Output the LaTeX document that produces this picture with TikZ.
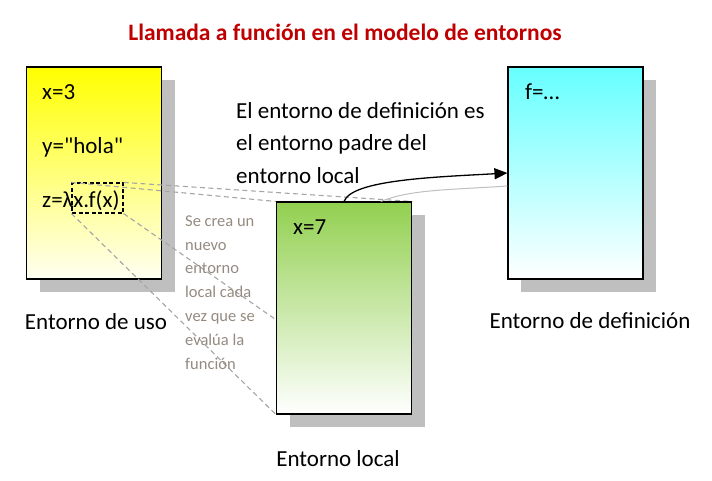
\documentclass[tikz,border=0pt]{standalone}
\usepackage{fontspec}
\setmainfont{Carlito}
\newfontfamily\plainfont{Carlito}[Mapping={}]
\usetikzlibrary{positioning,shadows,arrows.meta,calc}
\pgfdeclarelayer{back}
\pgfdeclarelayer{lines}
\pgfsetlayers{back,lines,main}
\definecolor{titlered}{RGB}{192,0,0}
\definecolor{notegray}{RGB}{148,138,128}
\definecolor{shadowgray}{RGB}{191,191,191}
\definecolor{guidegray}{RGB}{165,165,165}
\definecolor{usoyellow}{RGB}{255,255,0}
\definecolor{localgreen}{RGB}{146,208,80}
\definecolor{defcyan}{RGB}{102,255,255}
\tikzset{
    envbox/.style={draw=black, line width=1.1pt, minimum width=135pt, minimum height=212pt,
        drop shadow={shadow xshift=13pt, shadow yshift=-13pt, opacity=1, fill=shadowgray}},
    txt/.style={font=\fontsize{23}{32.5}\selectfont, inner sep=0pt, anchor=base west},
    guide/.style={guidegray, line width=1.1pt, dash pattern=on 5pt off 3.5pt},
}

\begin{document}
\begin{tikzpicture}[x=1pt,y=-1pt]
    \useasboundingbox (0,0) rectangle (712,480);
    \node[txt, anchor=base, font=\bfseries\fontsize{23.5}{28}\selectfont, text=titlered] (title) at (345,40) {Llamada a función en el modelo de entornos};

    % entorno de uso
    \begin{pgfonlayer}{back}
        \node[envbox, top color=usoyellow, bottom color=white!95!usoyellow] (uso) at (94,173) {};
        \node[txt] (vx) at (42,99) {x=3};
        \node[txt] (vy) at (42,153) {\plainfont y="hola"};
        \node[txt] (vz) at (42,207) {z=λx.f(x)};
        \node[draw, line width=1.1pt, dash pattern=on 4pt off 2.5pt, minimum width=51pt, minimum height=30pt, inner sep=0pt] (lam) at (97.5,198) {};
    \end{pgfonlayer}

    % entorno local y entorno de definicion
    \node[envbox, top color=localgreen, bottom color=white] (local) at (344,308) {};
    \node[txt] (vx7) at (293,234) {x=7};
    \node[envbox, top color=defcyan, bottom color=white] (def) at (575.5,173) {};
    \node[txt] (vf) at (525,99) {f=…};

    \begin{pgfonlayer}{lines}
        \foreach \c in {north west,north east,south west,south east}{
            \draw[guide] (lam.\c) -- (local.\c);
        }
    \end{pgfonlayer}

    \coordinate (gstart) at ($(local.north)!0.54!(local.north east)$);
    \coordinate (gend) at ([yshift=-13pt]def.west);
    \draw[shadowgray, line width=1pt] (gstart) .. controls +(30,-12) and +(-60,4) .. (gend);
    \draw[line width=1.3pt, -{Triangle[length=13pt,width=11pt]}] (local.north) .. controls +(8,-22) and +(-70,4) .. (def.west);

    \node[txt, align=left] (parent) at (236,183) {El entorno de definición es\\el entorno padre del\\entorno local};
    \node[txt, align=left, text=notegray, font=\fontsize{16.5}{23.8}\selectfont] (note) at (185,369) {Se crea un\\nuevo\\entorno\\local cada\\vez que se\\evalúa la\\función};

    \node[txt, anchor=base] (lbluso) at (96,329) {Entorno de uso};
    \node[txt, anchor=base] (lbllocal) at (338,466) {Entorno local};
    \node[txt, anchor=base] (lbldef) at (590,328) {Entorno de definición};
\end{tikzpicture}
\end{document}
